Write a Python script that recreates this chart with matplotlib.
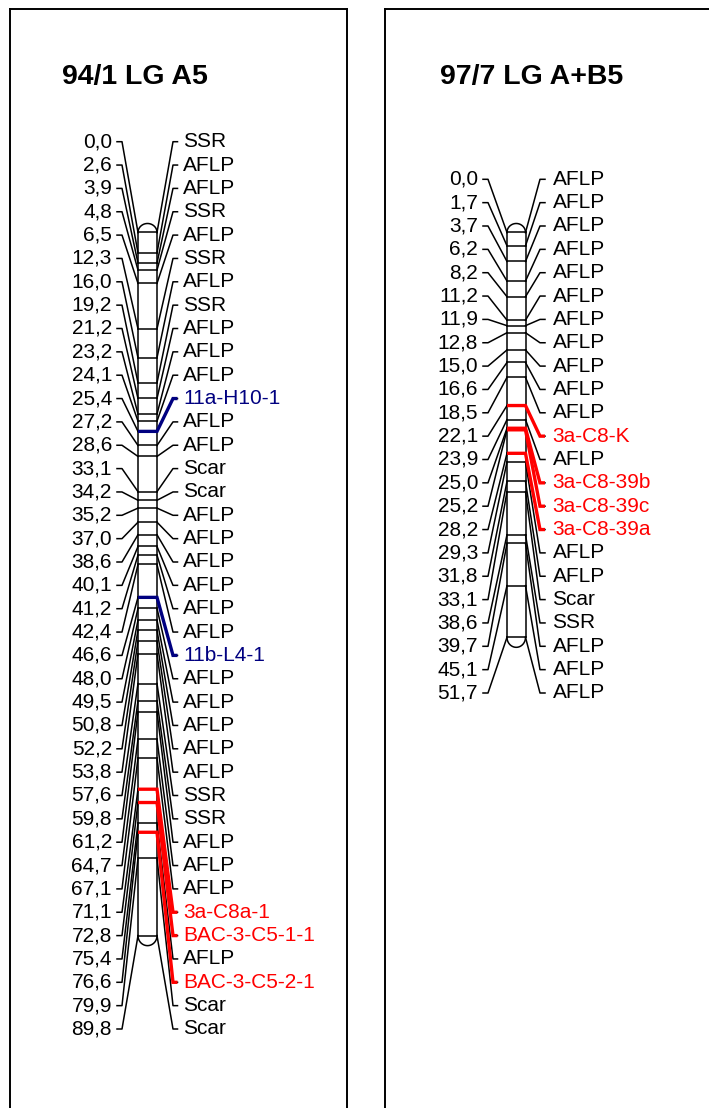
import matplotlib
matplotlib.use("Agg")
import matplotlib.pyplot as plt
import numpy as np

plt.rcParams['font.family'] = ['Liberation Sans', 'DejaVu Sans']

# ---------------- data ----------------
left_title = "94/1 LG A5"
left_pos = [0.0, 2.6, 3.9, 4.8, 6.5, 12.3, 16.0, 19.2, 21.2, 23.2, 24.1, 25.4,
            27.2, 28.6, 33.1, 34.2, 35.2, 37.0, 38.6, 40.1, 41.2, 42.4, 46.6,
            48.0, 49.5, 50.8, 52.2, 53.8, 57.6, 59.8, 61.2, 64.7, 67.1, 71.1,
            72.8, 75.4, 76.6, 79.9, 89.8]
left_names = ["SSR", "AFLP", "AFLP", "SSR", "AFLP", "SSR", "AFLP", "SSR", "AFLP",
              "AFLP", "AFLP", "11a-H10-1", "AFLP", "AFLP", "Scar", "Scar", "AFLP",
              "AFLP", "AFLP", "AFLP", "AFLP", "AFLP", "11b-L4-1", "AFLP", "AFLP",
              "AFLP", "AFLP", "AFLP", "SSR", "SSR", "AFLP", "AFLP", "AFLP",
              "3a-C8a-1", "BAC-3-C5-1-1", "AFLP", "BAC-3-C5-2-1", "Scar", "Scar"]

right_title = "97/7 LG A+B5"
right_pos = [0.0, 1.7, 3.7, 6.2, 8.2, 11.2, 11.9, 12.8, 15.0, 16.6, 18.5, 22.1,
             23.9, 25.0, 25.2, 28.2, 29.3, 31.8, 33.1, 38.6, 39.7, 45.1, 51.7]
right_names = ["AFLP", "AFLP", "AFLP", "AFLP", "AFLP", "AFLP", "AFLP", "AFLP",
               "AFLP", "AFLP", "AFLP", "3a-C8-K", "AFLP", "3a-C8-39b", "3a-C8-39c",
               "3a-C8-39a", "AFLP", "AFLP", "Scar", "SSR", "AFLP", "AFLP", "AFLP"]

BLUE = "#000080"
RED = "#ff0000"
highlight = {"11a-H10-1": BLUE, "11b-L4-1": BLUE,
             "3a-C8a-1": RED, "BAC-3-C5-1-1": RED, "BAC-3-C5-2-1": RED,
             "3a-C8-K": RED, "3a-C8-39b": RED, "3a-C8-39c": RED, "3a-C8-39a": RED}

# ---------------- layout ----------------
W, H, DPI = 709, 1108, 100
PX_PER_CM = 7.83
Y0 = 232.5          # pixel row of 0 cM
ROW_STEP = 23.35
FS = 15
LW = 1.1
CLW = 2.4


def cm_of(py):
    return (py - Y0) / PX_PER_CM


fig = plt.figure(figsize=(W / DPI, H / DPI), dpi=DPI)
fig.patch.set_facecolor("white")


def panel(x0, x1, top, title, title_x, title_y, pos, names, row0, geo):
    bottom_pix = H + 30
    ax = fig.add_axes([x0 / W, 1 - bottom_pix / H, (x1 - x0) / W, (bottom_pix - top) / H])
    ax.set_xlim(x0, x1)
    ax.set_ylim(cm_of(bottom_pix), cm_of(top))
    ax.set_xticks([])
    ax.set_yticks([])
    ax.spines['bottom'].set_visible(False)
    for s in ['top', 'left', 'right']:
        ax.spines[s].set_linewidth(1.4)
    ax.patch.set_alpha(0)

    lab_r, sl0, sl1, bl, br, sr0, sr1, txt_l = geo
    ax.text(title_x, cm_of(title_y), title, fontsize=20.5, fontweight='bold',
            ha='left', va='center')

    end = pos[-1]
    # chromosome bar
    ax.plot([bl, bl], [0, end], color='k', lw=LW)
    ax.plot([br, br], [0, end], color='k', lw=LW)
    t = np.linspace(0, np.pi, 60)
    cx, rx = (bl + br) / 2, (br - bl) / 2
    ax.plot(cx + rx * np.cos(t), 0 - (9 / PX_PER_CM) * np.sin(t), color='k', lw=LW)
    ax.plot(cx + rx * np.cos(t), end + (10 / PX_PER_CM) * np.sin(t), color='k', lw=LW)

    for i, (p, n) in enumerate(zip(pos, names)):
        ry = cm_of(row0 + i * ROW_STEP)
        col = highlight.get(n, 'k')
        ax.plot([bl, br], [p, p], color='k', lw=LW)
        ax.plot([sl0, sl1, bl], [ry, ry, p], color='k', lw=LW)
        ax.plot([br, sr0, sr1], [p, ry, ry], color='k', lw=LW)
        ax.text(lab_r, ry, f"{p:.1f}".replace('.', ','), fontsize=FS,
                ha='right', va='center', color='k')
        ax.text(txt_l, ry, n, fontsize=FS, ha='left', va='center', color=col)
        if n in highlight:
            ax.plot([bl, br, sr0, sr1], [p, p, ry, ry], color=col, lw=CLW,
                    solid_capstyle='butt', solid_joinstyle='miter', zorder=5)
    return ax


panel(10, 347, 9, left_title, 62, 77, left_pos, left_names, 141.7,
      (112, 117, 122, 138, 157, 173, 177.5, 183))
panel(385, 730, 9, right_title, 440, 77, right_pos, right_names, 179.3,
      (478, 483, 488, 507, 525.5, 540, 545, 552.5))

fig.savefig("out.png", dpi=DPI, facecolor="white")
